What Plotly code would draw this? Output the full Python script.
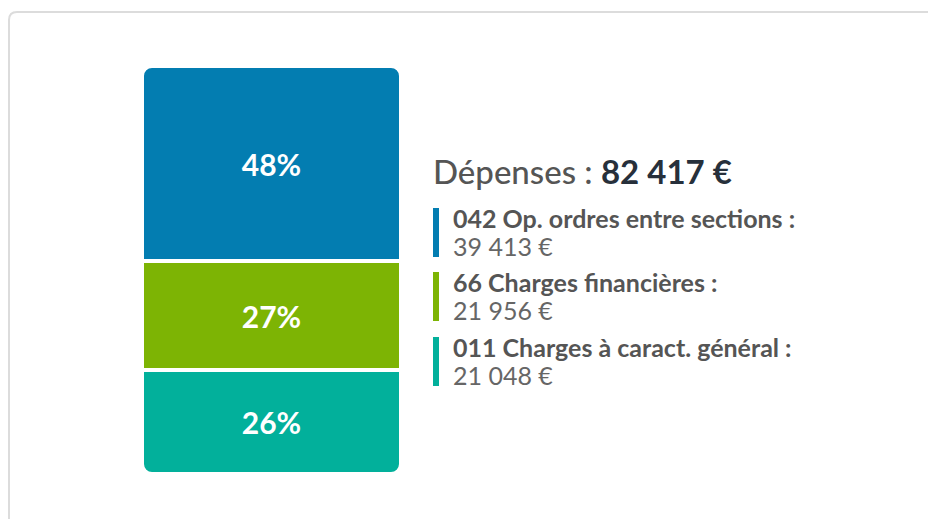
import plotly.graph_objects as go

# ---- data ----
categories = ["042 Op. ordres entre sections", "66 Charges financières", "011 Charges à caract. général"]
values = [39413, 21956, 21048]
colors = ["#037db1", "#7db404", "#02b09b"]
title_label = "Dépenses"

W, H = 928, 519

def fmt_eur(v):
    return f"{v:,}".replace(",", " ") + " €"

total = sum(values)
pcts = [round(v / total * 100) for v in values]

fig = go.Figure()

# Relative stacking: blue & green above zero, teal below, so both outer ends get rounded
signs = [1, 1, -1]
order = [1, 0, 2]
for i in order:
    fig.add_trace(go.Bar(
        x=["d"], y=[signs[i] * values[i]],
        marker=dict(color=colors[i], line=dict(color="white", width=4)),
        text=[f"{pcts[i]}%"], textposition="inside", insidetextanchor="middle",
        textfont=dict(family="Lato", size=30, color="white", weight="bold"),
        name=categories[i], hoverinfo="skip",
    ))

def px(x):
    return x / W

def py(y):
    return 1 - y / H

ymax = values[0] + values[1]
ymin = -values[2]
fig.update_layout(
    width=W, height=H,
    margin=dict(l=0, r=0, t=0, b=0),
    paper_bgcolor="white", plot_bgcolor="rgba(0,0,0,0)",
    barmode="relative", bargap=0, barcornerradius=10,
    showlegend=False,
    xaxis=dict(domain=[px(142), px(401)], visible=False, fixedrange=True),
    yaxis=dict(domain=[py(474), py(66)], range=[ymin, ymax], visible=False, fixedrange=True),
)

shapes = []
# card border
shapes.append(dict(type="path", xref="paper", yref="paper",
                   path=f"M {px(9)},{py(H+20)} L {px(9)},{py(20)} Q {px(9)},{py(12)} {px(17)},{py(12)} L {px(W+20)},{py(12)}",
                   line=dict(color="#dcdcdc", width=2), layer="below"))

annotations = []
annotations.append(dict(
    x=px(431), y=py(171), xref="paper", yref="paper", xanchor="left", yanchor="middle",
    text=f"{title_label} : <span style='color:#27303b;font-weight:bold'>{fmt_eur(total)}</span>",
    showarrow=False, font=dict(family="Lato", size=33, color="#555555", weight=500),
))

item_tops = [208, 272, 337]
for i, name in enumerate(categories):
    t = item_tops[i]
    shapes.append(dict(type="rect", xref="paper", yref="paper",
                       x0=px(433), x1=px(439), y0=py(t), y1=py(t + 49),
                       fillcolor=colors[i], line=dict(width=0)))
    annotations.append(dict(
        x=px(451), y=py(t + 10), xref="paper", yref="paper", xanchor="left", yanchor="middle",
        text=f"{name} :", showarrow=False,
        font=dict(family="Lato", size=25, color="#555555", weight="bold"),
    ))
    annotations.append(dict(
        x=px(451), y=py(t + 38), xref="paper", yref="paper", xanchor="left", yanchor="middle",
        text=fmt_eur(values[i]), showarrow=False,
        font=dict(family="Lato", size=25, color="#666666"),
    ))

fig.update_layout(shapes=shapes, annotations=annotations)
fig.write_html("out.html")
